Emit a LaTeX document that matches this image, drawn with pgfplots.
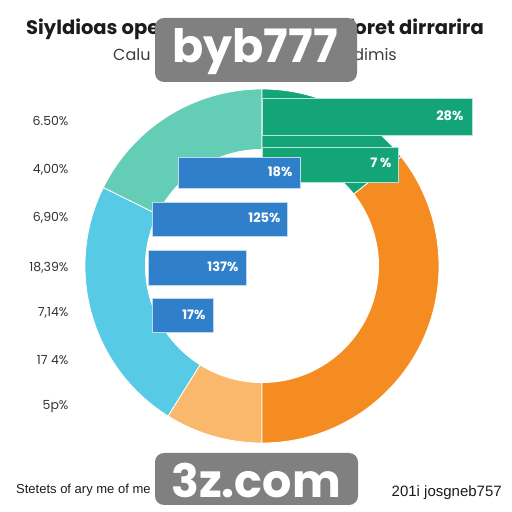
\documentclass[border=0pt]{standalone}
\usepackage{pgfplots}
\pgfplotsset{compat=1.18}
\usepackage{fontspec}
\setmainfont{Poppins}
\newfontfamily\footfont{Liberation Sans}
\definecolor{cteal}{HTML}{63CDB5}
\definecolor{ccyan}{HTML}{57CAE6}
\definecolor{clorange}{HTML}{F9B86C}
\definecolor{corange}{HTML}{F58C22}
\definecolor{cgreen}{HTML}{13A577}
\definecolor{cblue}{HTML}{2F7FCB}
\definecolor{wmgray}{HTML}{808080}
\definecolor{txt}{HTML}{1C1C1C}
\begin{document}
\begin{tikzpicture}
% donut shares (percent), counterclockwise from 12 o'clock
\def\pTeal{17.7}\def\pCyan{23.4}\def\pLorange{8.9}\def\pOrange{35.6}\def\pGreen{14.4}
\pgfmathsetmacro\aA{90}
\pgfmathsetmacro\aB{\aA+3.6*\pTeal}
\pgfmathsetmacro\aC{\aB+3.6*\pCyan}
\pgfmathsetmacro\aD{\aC+3.6*\pLorange}
\pgfmathsetmacro\aE{\aD+3.6*\pOrange}
\pgfmathsetmacro\aF{\aE+3.6*\pGreen}
\begin{axis}[width=512pt,height=512pt,scale only axis,
  xmin=0,xmax=512,ymin=0,ymax=512,hide axis,clip=false]
\fill[white] (axis cs:0,0) rectangle (axis cs:512,512);
% donut
\fill[cteal,draw=white,line width=0.8pt] (axis cs:262,246) -- ++(\aA:177pt) arc[start angle=\aA,end angle=\aB,radius=177pt] -- cycle;
\fill[ccyan,draw=white,line width=0.8pt] (axis cs:262,246) -- ++(\aB:177pt) arc[start angle=\aB,end angle=\aC,radius=177pt] -- cycle;
\fill[clorange,draw=white,line width=0.8pt] (axis cs:262,246) -- ++(\aC:177pt) arc[start angle=\aC,end angle=\aD,radius=177pt] -- cycle;
\fill[corange,draw=white,line width=0.8pt] (axis cs:262,246) -- ++(\aD:177pt) arc[start angle=\aD,end angle=\aE,radius=177pt] -- cycle;
\fill[cgreen,draw=white,line width=0.8pt] (axis cs:262,246) -- ++(\aE:177pt) arc[start angle=\aE,end angle=\aF,radius=177pt] -- cycle;
\fill[white] (axis cs:262,246) circle[radius=117pt];
% green bars
\addplot[fill=cgreen,draw=white!70!cgreen,line width=0.6pt,forget plot] coordinates {(262,377) (472,377) (472,414) (262,414)} -- cycle;
\addplot[fill=cgreen,draw=white!70!cgreen,line width=0.6pt,forget plot] coordinates {(262,330) (398,330) (398,365) (262,365)} -- cycle;
% blue bars
\addplot[fill=cblue,draw=white!70!cblue,line width=0.6pt,forget plot] coordinates {(178,324) (300,324) (300,355) (178,355)} -- cycle;
\addplot[fill=cblue,draw=white!70!cblue,line width=0.6pt,forget plot] coordinates {(152,276) (287,276) (287,310) (152,310)} -- cycle;
\addplot[fill=cblue,draw=white!70!cblue,line width=0.6pt,forget plot] coordinates {(148,227) (246,227) (246,262) (148,262)} -- cycle;
\addplot[fill=cblue,draw=white!70!cblue,line width=0.6pt,forget plot] coordinates {(152,180) (213,180) (213,214) (152,214)} -- cycle;
% bar labels
\begin{scope}[every node/.style={anchor=east,text=white,font=\fontsize{13}{15}\selectfont\bfseries}]
\node at (axis cs:467,396) {28\%};
\node at (axis cs:395,349) {7 \%};
\node at (axis cs:296,340) {18\%};
\node at (axis cs:284,294) {125\%};
\node at (axis cs:242,245) {137\%};
\node at (axis cs:209,197) {17\%};
\end{scope}
% left labels
\begin{scope}[every node/.style={anchor=east,text=txt!90,font=\fontsize{12.5}{14}\selectfont}]
\node at (axis cs:72,391) {6.50\%};
\node at (axis cs:72,342) {4,00\%};
\node at (axis cs:72,294) {6,90\%};
\node at (axis cs:72,244) {18,39\%};
\node at (axis cs:72,199) {7,14\%};
\node at (axis cs:72,152) {17 4\%};
\node at (axis cs:72,105) {5p\%};
\end{scope}
% titles
\node[anchor=base west,inner sep=0pt,text=txt,font=\fontsize{19.5}{22}\selectfont\bfseries] at (axis cs:26,477) {Siyldioas ope};
\node[anchor=base east,inner sep=0pt,text=txt,font=\fontsize{19.5}{22}\selectfont\bfseries] at (axis cs:484,477) {foret dirrarira};
\node[anchor=base west,inner sep=0pt,text=txt!85,font=\fontsize{16}{18}\selectfont] at (axis cs:113,451) {Calu};
\node[anchor=base east,inner sep=0pt,text=txt!85,font=\fontsize{16}{18}\selectfont] at (axis cs:397,451) {dimis};
% footer
\node[anchor=base west,inner sep=0pt,text=txt,font=\footfont\fontsize{13}{15}\selectfont] at (axis cs:16,18) {Stetets of ary me of me};
\node[anchor=base east,inner sep=0pt,text=txt,font=\footfont\fontsize{15}{17}\selectfont] at (axis cs:502,16) {201i josgneb757};
% watermarks
\fill[wmgray,rounded corners=9pt] (axis cs:155,430) rectangle (axis cs:357,494);
\node[anchor=base,inner sep=0pt,text=white,font=\fontsize{46}{50}\selectfont\bfseries] at (axis cs:255,449) {byb777};
\fill[wmgray,rounded corners=9pt] (axis cs:155,7) rectangle (axis cs:358,59);
\node[anchor=base,inner sep=0pt,text=white,font=\fontsize{46}{50}\selectfont\bfseries] at (axis cs:256,15) {3z.com};
\end{axis}
\end{tikzpicture}
\end{document}
